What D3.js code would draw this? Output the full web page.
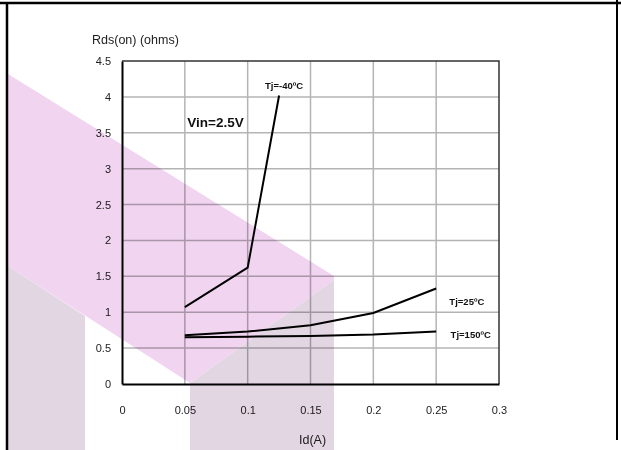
<!DOCTYPE html>
<html><head><meta charset="utf-8">
<script src="https://cdn.jsdelivr.net/npm/d3@7"></script>
<style>body{margin:0;background:#fff}svg{display:block;font-family:"Liberation Sans",Arial,sans-serif}</style>
</head><body><svg id="c" width="621" height="450"></svg>
<script>
const xTicks = [0, 0.05, 0.1, 0.15, 0.2, 0.25, 0.3];
const yTicks = [0, 0.5, 1, 1.5, 2, 2.5, 3, 3.5, 4, 4.5];
const seriesNames = ["Tj=-40ºC", "Tj=25ºC", "Tj=150ºC"];
const idM40 = [0.05, 0.1, 0.125];
const rdsM40 = [1.07, 1.62, 4.02];
const id25 = [0.05, 0.1, 0.15, 0.2, 0.25];
const rds25 = [0.68, 0.73, 0.82, 0.99, 1.33];
const id150 = [0.05, 0.1, 0.15, 0.2, 0.25];
const rds150 = [0.65, 0.66, 0.67, 0.69, 0.73];
const annotation = "Vin=2.5V";
const yTitle = "Rds(on) (ohms)";
const xTitle = "Id(A)";

const svg = d3.select("#c");
const x = d3.scaleLinear().domain([0, 0.3]).range([122, 499]);
const y = d3.scaleLinear().domain([0, 4.5]).range([384, 61]);

// grid
const g = svg.append("g");
g.selectAll(".vg").data(xTicks.slice(1, -1)).join("line")
  .attr("x1", d => x(d)).attr("x2", d => x(d)).attr("y1", y(0)).attr("y2", y(4.5))
  .attr("stroke", "#b4b4b4").attr("stroke-width", 1.5);
g.selectAll(".hg").data(yTicks.slice(1, -1)).join("line")
  .attr("y1", d => y(d)).attr("y2", d => y(d)).attr("x1", x(0)).attr("x2", x(0.3))
  .attr("stroke", "#b4b4b4").attr("stroke-width", 1.5);
g.append("path").attr("d", `M${x(0)},${y(4.5)}H${x(0.3)}V${y(0)}`)
  .attr("fill", "none").attr("stroke", "#333").attr("stroke-width", 1.5);

// axes
const xAxis = d3.axisBottom(x).tickValues(xTicks).tickSize(0).tickPadding(22).tickFormat(d => String(d));
const yAxis = d3.axisLeft(y).tickValues(yTicks).tickSize(0).tickPadding(11).tickFormat(d => String(d));
const gx = svg.append("g").attr("transform", `translate(0,${y(0)})`).call(xAxis);
const gy = svg.append("g").attr("transform", `translate(${x(0)},0)`).call(yAxis);
[gx, gy].forEach(a => {
  a.select(".domain").attr("stroke", "#000").attr("stroke-width", 2);
  a.selectAll("text").attr("font-size", 11).attr("fill", "#222").attr("font-family", "Liberation Sans, Arial, sans-serif");
});

// series
const line = d3.line().x(d => x(d[0])).y(d => y(d[1]));
const series = [d3.zip(idM40, rdsM40), d3.zip(id25, rds25), d3.zip(id150, rds150)];
svg.selectAll(".s").data(series).join("path")
  .attr("d", line).attr("fill", "none").attr("stroke", "#000").attr("stroke-width", 2);

// labels (positions in data units)
const lab = [[0.1138, 4.11], [0.2605, 1.1], [0.2615, 0.64]];
svg.selectAll(".lab").data(seriesNames).join("text")
  .attr("x", (d, i) => x(lab[i][0])).attr("y", (d, i) => y(lab[i][1]))
  .attr("font-size", 9.5).attr("font-weight", "bold").attr("fill", "#111").text(d => d);
svg.append("text").attr("x", x(0.052)).attr("y", y(3.63) + 4).attr("font-size", 13.5)
  .attr("font-weight", "bold").attr("fill", "#111").text(annotation);
svg.append("text").attr("x", 92).attr("y", 44).attr("font-size", 12.5).attr("fill", "#222").text(yTitle);
svg.append("text").attr("x", (x(0.15) + 2)).attr("y", 444).attr("text-anchor", "middle")
  .attr("font-size", 12.5).attr("fill", "#222").text(xTitle);

// watermark (decorative)
const wm = svg.append("g").style("mix-blend-mode", "multiply");
wm.append("path").attr("d", "M8,74L334,276L334,280L190,383L8,266Z").attr("fill", "#f0d4f0");
wm.append("path").attr("d", "M8,266L85,316L85,450L8,450Z").attr("fill", "#e2d6e2");
wm.append("path").attr("d", "M190,383L334,280L334,450L190,450Z").attr("fill", "#e2d6e2");

// page frame
svg.append("path").attr("d", "M0,3H621").attr("stroke", "#000").attr("stroke-width", 2.5);
svg.append("path").attr("d", "M7,3V450").attr("stroke", "#000").attr("stroke-width", 2.5);
svg.append("path").attr("d", "M617,0V440").attr("stroke", "#000").attr("stroke-width", 2);
</script></body></html>
